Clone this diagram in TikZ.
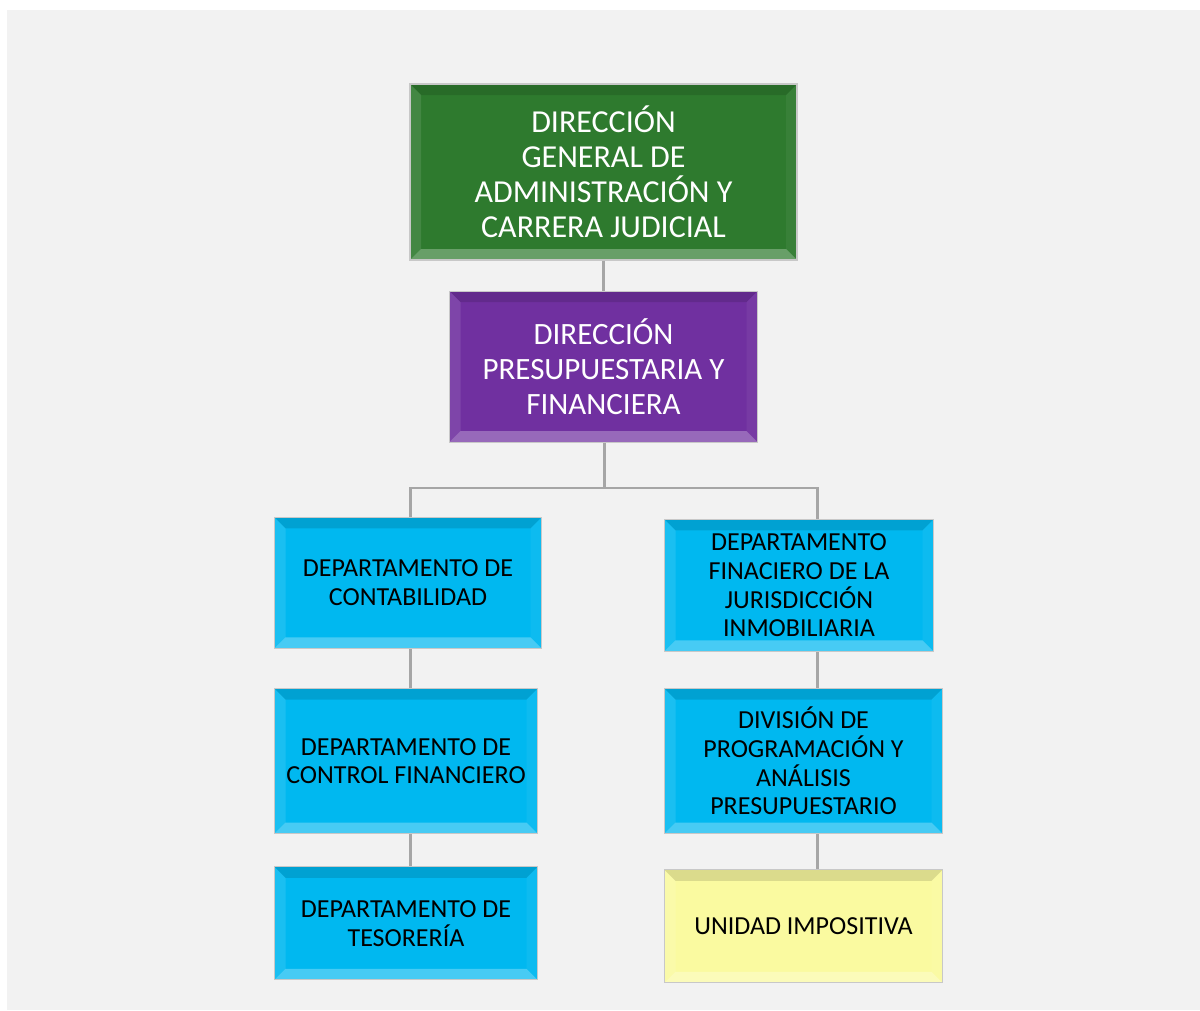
\documentclass[tikz,border=0pt]{standalone}
\usepackage{fontspec}
\setmainfont{Carlito}
\usepackage{tikz}
\usetikzlibrary{positioning}
\definecolor{bggray}{RGB}{242,242,242}
\definecolor{linegray}{RGB}{166,166,166}
\definecolor{edgegray}{RGB}{200,200,200}
\definecolor{dirgreen}{RGB}{46,122,46}
\definecolor{dirpurple}{RGB}{112,48,160}
\definecolor{deptblue}{RGB}{0,184,240}
\definecolor{unityellow}{RGB}{250,250,160}
\tikzset{
  orgbox/.style = {rectangle, draw=edgegray, line width=1.2pt, inner sep=0pt,
                   align=center,
                   path picture={
                     \fill[black, opacity=.12]
                       (path picture bounding box.north west) -- (path picture bounding box.north east)
                       -- ([shift={(-11pt,-11pt)}]path picture bounding box.north east)
                       -- ([shift={(11pt,-11pt)}]path picture bounding box.north west) -- cycle;
                     \fill[white, opacity=.28]
                       (path picture bounding box.south west) -- (path picture bounding box.south east)
                       -- ([shift={(-11pt,11pt)}]path picture bounding box.south east)
                       -- ([shift={(11pt,11pt)}]path picture bounding box.south west) -- cycle;
                     \fill[white, opacity=.10]
                       (path picture bounding box.south west) -- (path picture bounding box.north west)
                       -- ([shift={(11pt,-11pt)}]path picture bounding box.north west)
                       -- ([shift={(11pt,11pt)}]path picture bounding box.south west) -- cycle;
                     \fill[white, opacity=.05]
                       (path picture bounding box.south east) -- (path picture bounding box.north east)
                       -- ([shift={(-11pt,-11pt)}]path picture bounding box.north east)
                       -- ([shift={(-11pt,11pt)}]path picture bounding box.south east) -- cycle;
                     \draw[black!75, line width=2pt]
                       (path picture bounding box.north east) -- (path picture bounding box.south east);
                   }},
  topbox/.style  = {orgbox, fill=dirgreen, text=white, font=\fontsize{32}{35}\selectfont},
  dirbox/.style  = {orgbox, fill=dirpurple, text=white, font=\fontsize{31}{35}\selectfont},
  deptbox/.style = {orgbox, fill=deptblue, text=black, font=\fontsize{26}{28.7}\selectfont},
  unitbox/.style = {orgbox, fill=unityellow, text=black, font=\fontsize{26}{28.7}\selectfont},
  orgline/.style = {draw=linegray, line width=2.2pt}
}
\begin{document}
\begin{tikzpicture}
% background
\fill[white] (0,0) rectangle (1200pt,-1010pt);
\fill[bggray] (7pt,-10pt) rectangle (1200pt,-1010pt);

\node[topbox, minimum width=387pt, minimum height=176pt] (dgacj) at (603.5pt,-172pt)
  {DIRECCIÓN\\GENERAL DE\\ADMINISTRACIÓN Y\\CARRERA JUDICIAL};
\node[dirbox, minimum width=308pt, minimum height=151pt, below=30pt of dgacj] (dpf)
  {DIRECCIÓN\\PRESUPUESTARIA Y\\FINANCIERA};

% left column
\node[deptbox, minimum width=267pt, minimum height=131pt, below=74pt of dpf, xshift=-195.5pt] (cont)
  {DEPARTAMENTO DE\\CONTABILIDAD};
\node[deptbox, minimum width=263pt, minimum height=145pt, below=39pt of cont, xshift=-2pt] (ctrl)
  {DEPARTAMENTO DE\\CONTROL FINANCIERO};
\node[deptbox, minimum width=263pt, minimum height=113pt, below=32pt of ctrl] (teso)
  {DEPARTAMENTO DE\\TESORERÍA};

% right column
\node[deptbox, minimum width=269pt, minimum height=132pt, below=76pt of dpf, xshift=195.5pt] (fin)
  {DEPARTAMENTO\\FINACIERO DE LA\\JURISDICCIÓN\\INMOBILIARIA};
\node[deptbox, minimum width=278pt, minimum height=145pt, below=36pt of fin, xshift=4.5pt] (div)
  {DIVISIÓN DE\\PROGRAMACIÓN Y\\ANÁLISIS\\PRESUPUESTARIO};
\node[unitbox, minimum width=278pt, minimum height=113pt, below=35pt of div] (unimp)
  {UNIDAD IMPOSITIVA};

% connectors
\draw[orgline] (dgacj) -- (dpf);
\draw[orgline] ([xshift=1pt]dpf.south) -- ++(0,-45pt) coordinate (bus);
\draw[orgline] (bus) -| ([xshift=2.5pt]cont.north);
\draw[orgline] (bus) -| ([xshift=18.5pt]fin.north);
\draw[orgline] ([xshift=2.5pt]cont.south) -- ([xshift=2.5pt]cont.south |- ctrl.north);
\draw[orgline] ([xshift=4.5pt]ctrl.south) -- ([xshift=4.5pt]ctrl.south |- teso.north);
\draw[orgline] ([xshift=18.5pt]fin.south) -- ([xshift=18.5pt]fin.south |- div.north);
\draw[orgline] ([xshift=14pt]div.south) -- ([xshift=14pt]div.south |- unimp.north);
\end{tikzpicture}
\end{document}
